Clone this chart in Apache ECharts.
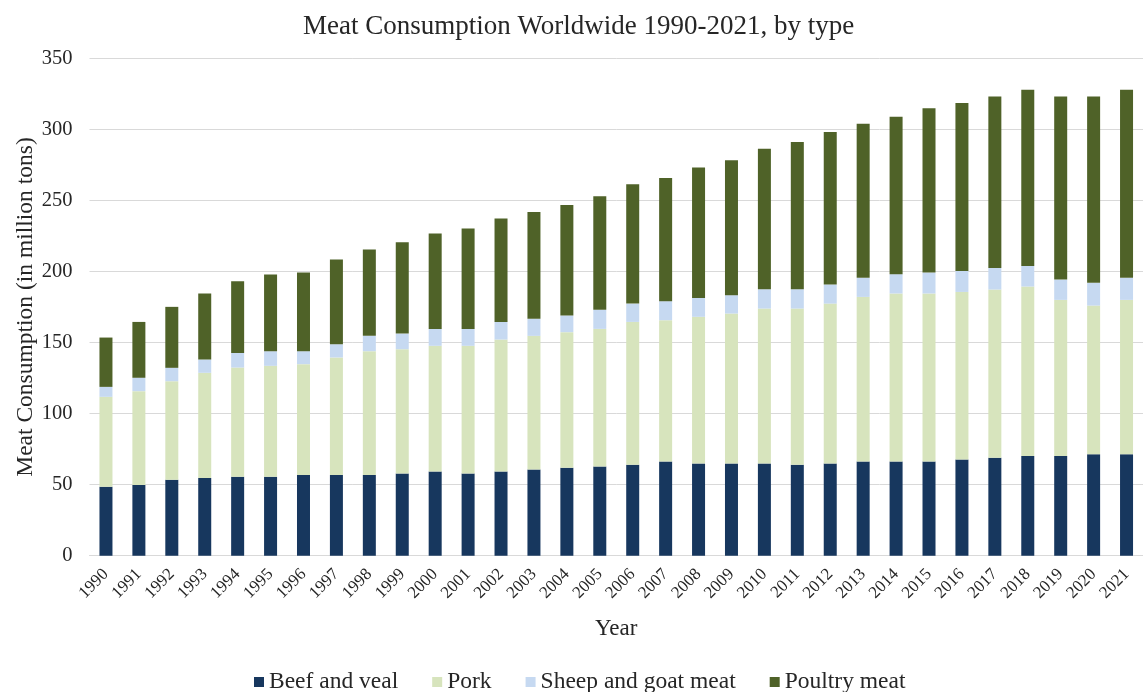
<!DOCTYPE html>
<html>
<head>
<meta charset="utf-8">
<script src="https://cdn.jsdelivr.net/npm/echarts@6/dist/echarts.min.js"></script>
<style>
  html, body { margin: 0; padding: 0; background: #ffffff; }
  #chart { width: 1143px; height: 692px; }
</style>
</head>
<body>
<div id="chart"></div>
<script>
// Years on the category axis
const years = ['1990','1991','1992','1993','1994','1995','1996','1997','1998','1999',
  '2000','2001','2002','2003','2004','2005','2006','2007','2008','2009',
  '2010','2011','2012','2013','2014','2015','2016','2017','2018','2019','2020','2021'];

// Consumption by meat type, million tons
const beefAndVeal = [48.5, 49.7, 53.4, 54.6, 55.6, 55.6, 56.7, 56.7, 56.7, 57.9,
  59.3, 57.9, 59.3, 60.7, 61.9, 62.8, 64.0, 66.3, 64.9, 64.9,
  64.9, 64.0, 64.9, 66.3, 66.3, 66.3, 67.7, 68.9, 70.1, 70.1, 71.3, 71.3];
const pork = [63.3, 66.1, 69.4, 74.1, 76.8, 78.0, 78.1, 82.8, 87.2, 87.4,
  88.4, 89.8, 92.8, 94.0, 95.4, 96.8, 100.5, 99.4, 103.2, 105.5,
  109.0, 109.9, 112.5, 115.8, 118.2, 118.2, 117.9, 118.4, 119.3, 109.9, 104.7, 108.7];
const sheepAndGoat = [7.0, 9.4, 9.4, 9.4, 10.3, 10.3, 9.1, 9.3, 10.8, 11.0,
  11.9, 11.9, 12.4, 12.0, 11.7, 13.4, 12.9, 13.4, 13.3, 12.9,
  13.6, 13.6, 13.4, 13.4, 13.6, 14.7, 14.8, 15.2, 14.5, 14.3, 16.0, 15.5];
const poultry = [34.7, 39.3, 42.9, 46.4, 50.4, 53.9, 55.3, 59.6, 60.7, 64.3,
  67.1, 70.6, 72.7, 75.2, 77.8, 79.9, 84.0, 86.7, 91.7, 94.9,
  98.9, 103.6, 107.4, 108.5, 110.8, 115.6, 118.1, 120.7, 124.0, 128.9, 131.2, 132.4];

// Value axis ticks
const yTicks = [0, 50, 100, 150, 200, 250, 300, 350];

const FONT = "'Liberation Serif', 'Times New Roman', serif";
const TEXT = '#262626';

const chart = echarts.init(document.getElementById('chart'), null, { renderer: 'canvas' });

function barSeries(name, data, color) {
  return {
    name: name,
    type: 'bar',
    stack: 'meat',
    barWidth: 13,
    data: data,
    itemStyle: { color: color },
    emphasis: { disabled: true }
  };
}

chart.setOption({
  animation: false,
  backgroundColor: '#ffffff',
  textStyle: { fontFamily: FONT, color: TEXT },
  title: {
    text: 'Meat Consumption Worldwide 1990-2021, by type',
    left: 298,
    top: 8,
    textStyle: { fontFamily: FONT, fontSize: 27, fontWeight: 'normal', color: TEXT }
  },
  legend: {
    data: ['Beef and veal', 'Pork', 'Sheep and goat meat', 'Poultry meat'],
    left: 249,
    top: 665,
    icon: 'rect',
    itemWidth: 10,
    itemHeight: 10,
    itemGap: 34,
    textStyle: { fontFamily: FONT, fontSize: 23.5, color: TEXT }
  },
  grid: {
    left: 89.5,
    top: 58.3,
    bottom: 136.3,
    width: 1059
  },
  xAxis: {
    type: 'category',
    data: years,
    name: 'Year',
    nameLocation: 'middle',
    nameGap: 62,
    nameMoveOverlap: false,
    nameTextStyle: { fontFamily: FONT, fontSize: 23, color: TEXT },
    axisLine: { lineStyle: { color: '#d9d9d9', width: 1 } },
    axisTick: { show: false },
    axisLabel: {
      rotate: 45,
      interval: 0,
      margin: 16,
      fontFamily: FONT,
      fontSize: 17,
      color: TEXT
    }
  },
  yAxis: {
    type: 'value',
    min: yTicks[0],
    max: yTicks[yTicks.length - 1],
    interval: 50,
    name: 'Meat Consumption (in million tons)',
    nameLocation: 'middle',
    nameGap: 52,
    nameMoveOverlap: false,
    nameTextStyle: { fontFamily: FONT, fontSize: 23.5, color: TEXT },
    axisLine: { show: false },
    axisTick: { show: false },
    splitLine: { lineStyle: { color: '#d9d9d9', width: 1 } },
    axisLabel: {
      margin: 17,
      fontFamily: FONT,
      fontSize: 20.5,
      color: TEXT
    }
  },
  series: [
    barSeries('Beef and veal', beefAndVeal, '#17375E'),
    barSeries('Pork', pork, '#D7E4BD'),
    barSeries('Sheep and goat meat', sheepAndGoat, '#C6D9F1'),
    barSeries('Poultry meat', poultry, '#4F6228')
  ]
});
</script>
</body>
</html>
